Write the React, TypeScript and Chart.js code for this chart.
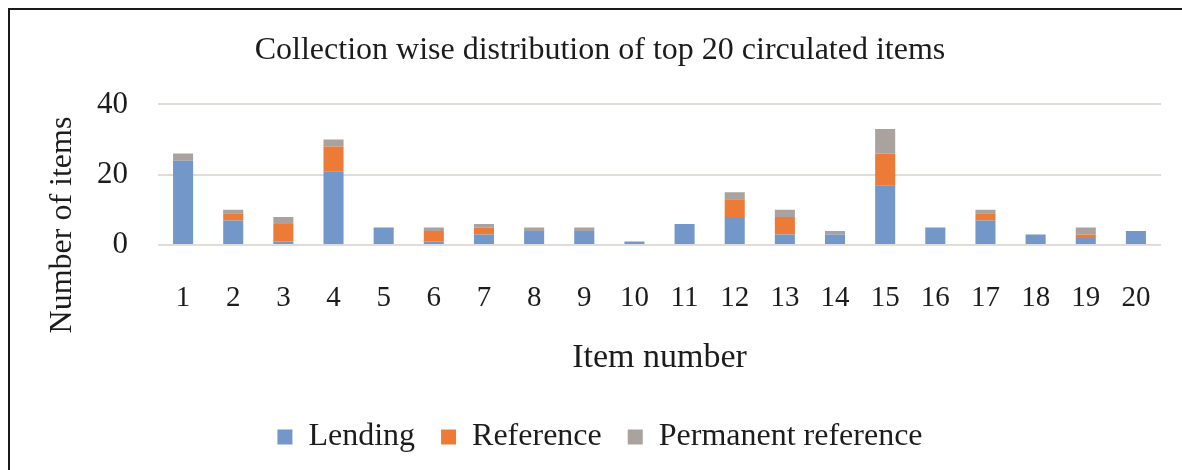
import React, { useEffect, useRef } from "react";
import { Chart, registerables } from "chart.js";

Chart.register(...registerables);

const chartTitle = "Collection wise distribution of top 20 circulated items";
const xAxisTitle = "Item number";
const yAxisTitle = "Number of items";
const categories = ["1", "2", "3", "4", "5", "6", "7", "8", "9", "10", "11", "12", "13", "14", "15", "16", "17", "18", "19", "20"];
const seriesNames = ["Lending", "Reference", "Permanent reference"];
const lending = [24, 7, 1, 21, 5, 1, 3, 4, 4, 1, 6, 8, 3, 3, 17, 5, 7, 3, 2, 4];
const reference = [0, 2, 5, 7, 0, 3, 2, 0, 0, 0, 0, 5, 5, 0, 9, 0, 2, 0, 1, 0];
const permanentReference = [2, 1, 2, 2, 0, 1, 1, 1, 1, 0, 0, 2, 2, 1, 7, 0, 1, 0, 2, 0];
const yMin = 0;
const yMax = 40;
const yStep = 20;

const COLORS = ["#7397c8", "#ec7b37", "#aaa29e"];
const FONT = "'Liberation Serif', 'Times New Roman', serif";
const TEXT = "#1c1c1c";

export default function App() {
  const canvasRef = useRef<HTMLCanvasElement | null>(null);

  useEffect(() => {
    if (!canvasRef.current) return;
    const yTitlePlugin = {
      id: "yTitlePlugin",
      afterDraw(chart: any) {
        const ctx = chart.ctx;
        ctx.save();
        ctx.translate(63, 225);
        ctx.rotate(-Math.PI / 2);
        ctx.font = `32px ${FONT}`;
        ctx.fillStyle = TEXT;
        ctx.textAlign = "center";
        ctx.textBaseline = "middle";
        ctx.fillText(yAxisTitle, 0, 0);
        ctx.restore();
      },
    };
    const chart = new Chart(canvasRef.current, {
      type: "bar",
      data: {
        labels: categories,
        datasets: [
          { label: seriesNames[0], data: lending, backgroundColor: COLORS[0] },
          { label: seriesNames[1], data: reference, backgroundColor: COLORS[1] },
          { label: seriesNames[2], data: permanentReference, backgroundColor: COLORS[2] },
        ],
      },
      options: {
        animation: false,
        responsive: false,
        maintainAspectRatio: false,
        layout: { padding: { left: 39, right: 21, top: 0, bottom: 7 } },
        datasets: { bar: { categoryPercentage: 1, barPercentage: 0.4 } },
        plugins: {
          title: {
            display: true,
            text: chartTitle,
            color: TEXT,
            font: { family: FONT, size: 32, weight: "normal" },
            padding: { top: 31, bottom: 35 },
          },
          legend: {
            position: "bottom",
            labels: {
              color: TEXT,
              font: { family: FONT, size: 32 },
              boxWidth: 15,
              boxHeight: 15,
              padding: 26,
            },
          },
          tooltip: { enabled: false },
        },
        scales: {
          x: {
            stacked: true,
            grid: { display: false },
            border: { display: false },
            ticks: { color: TEXT, font: { family: FONT, size: 29 }, padding: 28 },
            title: {
              display: true,
              text: xAxisTitle,
              color: TEXT,
              font: { family: FONT, size: 34 },
              padding: { top: 0, bottom: 17 },
            },
            afterFit(scale: any) {
              scale.height = 150;
            },
          },
          y: {
            stacked: true,
            min: yMin,
            max: yMax,
            grid: { color: "#e0dcd8", lineWidth: 2, drawTicks: false },
            border: { display: false },
            ticks: { stepSize: yStep, color: TEXT, font: { family: FONT, size: 31 }, padding: 30 },
            afterFit(scale: any) {
              scale.width = 119;
            },
          },
        },
      },
      plugins: [yTitlePlugin],
    });
    return () => chart.destroy();
  }, []);

  return (
    <div>
      <div
        style={{
          position: "fixed",
          left: 8,
          top: 8,
          width: 1300,
          height: 600,
          borderTop: "2px solid #1a1a1a",
          borderLeft: "2px solid #1a1a1a",
        }}
      />
      <canvas
        ref={canvasRef}
        width={1182}
        height={470}
        style={{ position: "fixed", left: 0, top: 0, width: 1182, height: 470 }}
      />
    </div>
  );
}
